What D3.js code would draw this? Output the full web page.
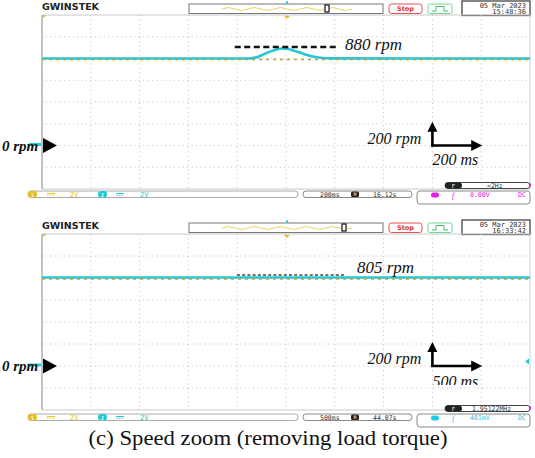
<!DOCTYPE html>
<html><head><meta charset="utf-8">
<script src="https://cdn.jsdelivr.net/npm/d3@7"></script>
<style>body{margin:0;background:#fff}svg{display:block}</style>
</head><body>
<svg id="c" width="535" height="458"></svg>
<script>
// ---------------- data ----------------
// Panel 1 (200 ms/div): speed bump when removing load torque
const time1  = [-1000, -150, -120, -90, -60, -35, -15, 5, 30, 60, 90, 120, 150, 180, 1000];
const speed1 = [800, 800, 812, 840, 868, 886, 892, 889, 874, 852, 830, 814, 805, 801, 800];
const ch1Time1 = [-1000, 1000];
const ch1Level1 = [800, 800];
// Panel 2 (500 ms/div): flat speed
const time2  = [-2500, 2500];
const speed2 = [805, 805];
const ch1Time2 = [-2500, 2500];
const ch1Level2 = [800, 800];

const timePerDiv = [200, 500];          // ms/div
const rpmPerDiv = 200;                  // rpm/div
const peakLabels = ["880 rpm", "805 rpm"];
const peakLevels = [906, 827];          // dashed reference line level (rpm)
const timeLabels = ["200 ms", "500 ms"];
const scaleLabel = "200 rpm";
const zeroLabel = "0 rpm";
const timebaseText = ["200ms", "500ms"];
const horizPosText = ["16.12s", "44.07s"];
const freqText = ["<2Hz", "1.95122MHz"];
const trigLevelText = ["0.00V", "481mV"];
const dateText = ["05 Mar 2023", "05 Mar 2023"];
const clockText = ["15:48:36", "16:33:42"];
const voltsText = ["2V", "2V"];
const caption = "(c) Speed zoom (removing load torque)";

// ---------------- layout ----------------
const panels = [
  {off: 0,   top: 15,  bottom: 189, bar: 191, memX: 327, trigColor: "#e020e0", dash: "6,3.5", dashW: 2.5, dashCol: "#111",
   dashT: [-210, 213], labelGap: 7, labelRpm: 876, t: time1, v: speed1, ct: ch1Time1, cv: ch1Level1},
  {off: 219, top: 234, bottom: 410, bar: 414, memX: 344, trigColor: "#20c8e8", dash: "3,2.2", dashW: 1.6, dashCol: "#444",
   dashT: [-502, 594], labelGap: 13, labelRpm: 845, t: time2, v: speed2, ct: ch1Time2, cv: ch1Level2}
];
const L = 42, R = 530;
const svg = d3.select("#c");
const mono = "DejaVu Sans Mono, monospace";
const serif = "Liberation Serif, Times New Roman, serif";
const CY = "#20c8d8", YE = "#e8c020";

panels.forEach((p, i) => {
  const half = timePerDiv[i] * 5;
  const x = d3.scaleLinear().domain([-half, half]).range([L, R]);
  const y = d3.scaleLinear().domain([-2 * rpmPerDiv, 6 * rpmPerDiv]).range([p.bottom, p.top]);
  const g = svg.append("g");
  const o = p.off;

  // ---- header ----
  g.append("text").attr("x", 42).attr("y", o + 9.5).attr("font-family", "DejaVu Sans, sans-serif")
    .attr("font-weight", "900").attr("font-size", 8).attr("textLength", 57).attr("lengthAdjust", "spacingAndGlyphs")
    .attr("fill", "#222").text("GWINSTEK");
  g.append("rect").attr("x", 189).attr("y", o + 4).attr("width", 194).attr("height", 9.5)
    .attr("fill", "#fff").attr("stroke", "#777").attr("stroke-width", 1);
  // memory overview wave icon
  let wp = "M222," + (o + 9);
  for (let k = 0; k < 10; k++) {
    const x0 = 222 + k * 13;
    wp += " Q" + (x0 + 6.5) + "," + (o + (k % 2 ? 12 : 6)) + " " + (x0 + 13) + "," + (o + 9);
  }
  g.append("path").attr("d", wp).attr("fill", "none").attr("stroke", "#f0d060").attr("stroke-width", 1);
  g.append("rect").attr("x", p.memX - 2).attr("y", o + 5).attr("width", 4).attr("height", 7)
    .attr("fill", "#fff").attr("stroke", "#111").attr("stroke-width", 1.2);
  g.append("circle").attr("cx", 287).attr("cy", o + 2.5).attr("r", 1.2).attr("fill", CY);
  g.append("path").attr("d", `M284,${p.top + 1} L290,${p.top + 1} L287,${p.top + 4} Z`).attr("fill", YE);
  g.append("path").attr("d", `M43,${p.top} L47,${p.top} L43,${p.top + 3} Z`).attr("fill", YE);
  // Stop box
  g.append("rect").attr("x", 389).attr("y", o + 4).attr("width", 33).attr("height", 9.5).attr("rx", 2.5)
    .attr("fill", "#fff").attr("stroke", "#e85050").attr("stroke-width", 1);
  g.append("text").attr("x", 405.5).attr("y", o + 11.3).attr("text-anchor", "middle").attr("font-family", "DejaVu Sans, sans-serif")
    .attr("font-weight", "bold").attr("font-size", 6.5).attr("fill", "#e03030").text("Stop");
  g.append("rect").attr("x", 428).attr("y", o + 4).attr("width", 24).attr("height", 9.5).attr("rx", 1.5)
    .attr("fill", "#fff").attr("stroke", "#70d890").attr("stroke-width", 1);
  g.append("path").attr("d", `M432,${o + 11} L436,${o + 11} L436,${o + 6.5} L444,${o + 6.5} L444,${o + 11} L448,${o + 11}`)
    .attr("fill", "none").attr("stroke", "#40c070").attr("stroke-width", 1);
  // date box
  g.append("rect").attr("x", 462).attr("y", o + 1).attr("width", 68).attr("height", 14.5)
    .attr("fill", "#fff").attr("stroke", "#444").attr("stroke-width", 1.3);
  g.append("text").attr("x", 526).attr("y", o + 7.5).attr("text-anchor", "end").attr("font-family", mono)
    .attr("font-size", 7).attr("fill", "#333").text(dateText[i]);
  g.append("text").attr("x", 526).attr("y", o + 14).attr("text-anchor", "end").attr("font-family", mono)
    .attr("font-size", 7).attr("fill", "#333").text(clockText[i]);

  // ---- grid ----
  const xt = d3.range(-5, 6).map(d => d * timePerDiv[i]);
  const yt = d3.range(-2, 7).map(d => d * rpmPerDiv);
  g.append("g").selectAll("line").data(xt.slice(1, -1)).join("line")
    .attr("x1", d => x(d)).attr("x2", d => x(d)).attr("y1", p.top).attr("y2", p.bottom)
    .attr("stroke", "#bdbdbd").attr("stroke-width", 1).attr("stroke-dasharray", "1,3.4");
  g.append("g").selectAll("line").data(yt.slice(1, -1)).join("line")
    .attr("x1", L).attr("x2", R).attr("y1", d => y(d)).attr("y2", d => y(d))
    .attr("stroke", "#bdbdbd").attr("stroke-width", 1).attr("stroke-dasharray", "1,3.4");
  // border
  g.append("line").attr("x1", L).attr("x2", L).attr("y1", p.top).attr("y2", p.bottom).attr("stroke", "#999").attr("stroke-width", 1.2);
  g.append("line").attr("x1", L).attr("x2", R).attr("y1", p.top).attr("y2", p.top).attr("stroke", "#c8c8c8").attr("stroke-width", 1);
  g.append("line").attr("x1", L).attr("x2", R).attr("y1", p.bottom).attr("y2", p.bottom).attr("stroke", "#c8c8c8").attr("stroke-width", 1);
  g.append("line").attr("x1", R).attr("x2", R).attr("y1", p.top).attr("y2", p.bottom).attr("stroke", "#d0d0d0").attr("stroke-width", 1);

  // ---- traces ----
  const line = d3.line().x(d => x(d[0])).y(d => y(d[1])).curve(d3.curveMonotoneX);
  g.append("path").datum(d3.zip(p.t, p.v)).attr("d", line)
    .attr("fill", "none").attr("stroke", CY).attr("stroke-width", 2.6);
  g.append("path").datum(d3.zip(p.ct, p.cv)).attr("d", line)
    .attr("transform", "translate(0,1)")
    .attr("fill", "none").attr("stroke", "#c0a030").attr("stroke-width", 1.3).attr("stroke-dasharray", "3,4");

  // ---- annotations ----
  g.append("line").attr("x1", x(p.dashT[0])).attr("x2", x(p.dashT[1]))
    .attr("y1", y(peakLevels[i])).attr("y2", y(peakLevels[i]))
    .attr("stroke", p.dashCol).attr("stroke-width", p.dashW).attr("stroke-dasharray", p.dash);
  g.append("text").attr("x", x(p.dashT[1]) + p.labelGap).attr("y", y(p.labelRpm))
    .attr("font-family", serif).attr("font-style", "italic").attr("font-size", 17).attr("fill", "#111")
    .text(peakLabels[i]);

  // zero marker
  g.append("rect").attr("x", 29).attr("y", y(0) - 2.5).attr("width", 12).attr("height", 3).attr("fill", CY);
  g.append("text").attr("x", 2).attr("y", y(0) + 5).attr("font-family", serif).attr("font-style", "italic")
    .attr("font-weight", "bold").attr("font-size", 15).attr("fill", "#111").text(zeroLabel);
  g.append("path").attr("d", `M43,${y(0) - 7.5} L57,${y(0)} L43,${y(0) + 7.5} Z`).attr("fill", "#000");

  // scale arrows
  const t0 = 3 * timePerDiv[i], t1 = 4 * timePerDiv[i];
  const ax = x(t0), ay = y(0), ayTop = y(rpmPerDiv), axR = x(t1);
  const ag = g.append("g");
  if (i === 1) {
    svg.append("clipPath").attr("id", "clipA").append("rect").attr("x", 0).attr("y", 0).attr("width", 535).attr("height", 385);
    ag.attr("clip-path", "url(#clipA)");
  }
  ag.append("line").attr("x1", ax).attr("x2", ax).attr("y1", ay + 1).attr("y2", ayTop + 6).attr("stroke", "#000").attr("stroke-width", 2.6);
  ag.append("path").attr("d", `M${ax - 5},${ayTop + 8} L${ax},${ayTop - 2} L${ax + 5},${ayTop + 8} Z`).attr("fill", "#000");
  ag.append("line").attr("x1", ax - 1.3).attr("x2", axR - 8).attr("y1", ay).attr("y2", ay).attr("stroke", "#000").attr("stroke-width", 2.6);
  ag.append("path").attr("d", `M${axR - 10},${ay - 5.5} L${axR + 1},${ay} L${axR - 10},${ay + 5.5} Z`).attr("fill", "#000");
  ag.append("text").attr("x", ax - 11).attr("y", ay - 2).attr("text-anchor", "end").attr("font-family", serif)
    .attr("font-style", "italic").attr("font-size", 16).attr("fill", "#111").text(scaleLabel);
  ag.append("text").attr("x", ax).attr("y", ay + (i ? 21 : 19)).attr("font-family", serif)
    .attr("font-style", "italic").attr("font-size", 16).attr("fill", "#111").text(timeLabels[i]);
  if (i === 1) {
    g.append("path").attr("d", `M${R - 1},${y(40) - 3} L${R - 5},${y(40)} L${R - 1},${y(40) + 3} Z`).attr("fill", CY);
  }

  // ---- status bar ----
  const b = p.bar;
  g.append("rect").attr("x", 28).attr("y", b).attr("width", 270).attr("height", 6.5).attr("rx", 3)
    .attr("fill", "#fff").attr("stroke", "#aaa").attr("stroke-width", 1);
  [[28, YE, "1", 47, 70], [98, CY, "2", 116, 140]].forEach(([cx, col, n, eq, vx]) => {
    g.append("rect").attr("x", cx).attr("y", b).attr("width", 9).attr("height", 6.5).attr("rx", 3.2).attr("fill", col);
    g.append("text").attr("x", cx + 4.5).attr("y", b + 5.5).attr("text-anchor", "middle").attr("font-family", mono)
      .attr("font-size", 5.5).attr("fill", "#fff").text(n);
    g.append("line").attr("x1", eq).attr("x2", eq + 8).attr("y1", b + 2.5).attr("y2", b + 2.5).attr("stroke", col).attr("stroke-width", 1);
    g.append("line").attr("x1", eq).attr("x2", eq + 8).attr("y1", b + 4.3).attr("y2", b + 4.3).attr("stroke", col).attr("stroke-width", 0.8).attr("stroke-dasharray", "1.5,1");
    g.append("text").attr("x", vx).attr("y", b + 6).attr("font-family", mono).attr("font-size", 7).attr("fill", col).text(voltsText[n - 1]);
  });
  g.append("rect").attr("x", 303).attr("y", b).attr("width", 109).attr("height", 6.5).attr("rx", 3)
    .attr("fill", "#fff").attr("stroke", "#888").attr("stroke-width", 1);
  g.append("text").attr("x", 320).attr("y", b + 6).attr("font-family", mono).attr("font-size", 6.5).attr("fill", "#333").text(timebaseText[i]);
  g.append("rect").attr("x", 351).attr("y", b + 0.5).attr("width", 8).attr("height", 5.5).attr("rx", 1.5).attr("fill", "#222");
  g.append("text").attr("x", 355).attr("y", b + 5.3).attr("text-anchor", "middle").attr("font-family", mono).attr("font-size", 5).attr("fill", "#fff").text("H");
  g.append("text").attr("x", 373).attr("y", b + 6).attr("font-family", mono).attr("font-size", 6.5).attr("fill", "#333").text(horizPosText[i]);
  // frequency box
  g.append("rect").attr("x", 445).attr("y", b - 8.5).attr("width", 85).attr("height", 6).attr("rx", 3)
    .attr("fill", "#fff").attr("stroke", "#444").attr("stroke-width", 1);
  g.append("rect").attr("x", 445).attr("y", b - 8.5).attr("width", 17).attr("height", 6).attr("rx", 3).attr("fill", "#222");
  g.append("text").attr("x", 453.5).attr("y", b - 3.5).attr("text-anchor", "middle").attr("font-family", mono).attr("font-size", 5.5).attr("fill", "#fff").text("F");
  g.append("text").attr("x", i ? 472 : 487).attr("y", b - 3).attr("font-family", mono).attr("font-size", 6.5).attr("fill", "#333").text(freqText[i]);
  g.append("path").attr("d", `M529,${b - 6} L531,${b - 8} L531,${b - 4} Z`).attr("fill", "#e020e0");
  // trigger box
  g.append("rect").attr("x", 417).attr("y", b).attr("width", 113).attr("height", 13).attr("rx", 3)
    .attr("fill", "#fff").attr("stroke", "#888").attr("stroke-width", 1);
  g.append("rect").attr("x", 431).attr("y", b + 1.5).attr("width", 8).attr("height", 5).attr("rx", 2.5).attr("fill", p.trigColor);
  g.append("text").attr("x", 452).attr("y", b + 6.5).attr("font-family", serif).attr("font-style", "italic").attr("font-size", 8).attr("fill", p.trigColor).text("f");
  g.append("text").attr("x", 470).attr("y", b + 6.3).attr("font-family", mono).attr("font-size", 6.5).attr("fill", p.trigColor).text(trigLevelText[i]);
  g.append("text").attr("x", 518).attr("y", b + 6.3).attr("font-family", mono).attr("font-size", 6.5).attr("fill", p.trigColor).text("DC");
});

svg.append("text").attr("x", 268).attr("y", 445).attr("text-anchor", "middle").attr("font-family", serif)
  .attr("font-size", 21.5).attr("textLength", 359).attr("lengthAdjust", "spacingAndGlyphs")
  .attr("fill", "#111").text(caption);
</script>
</body></html>
